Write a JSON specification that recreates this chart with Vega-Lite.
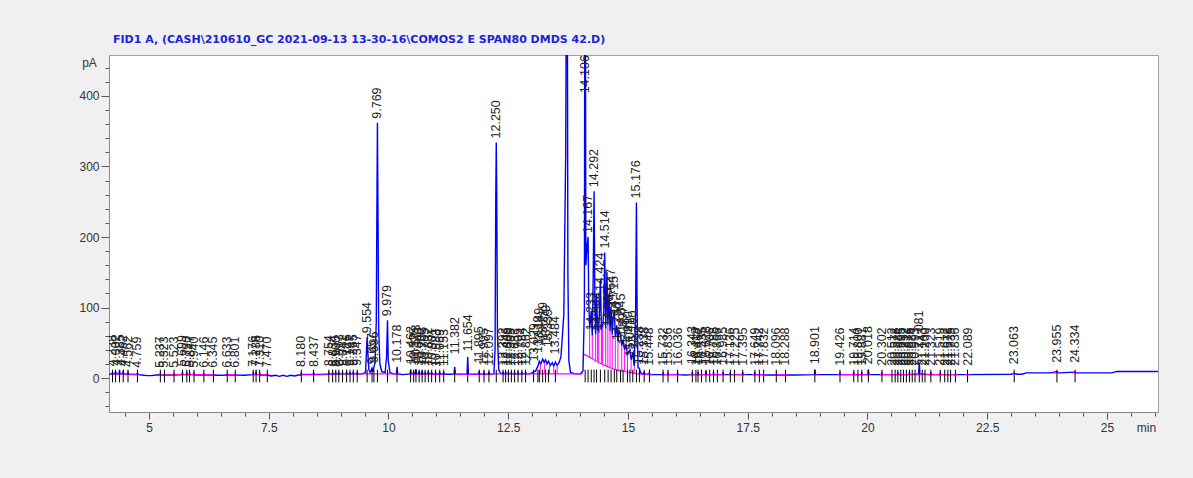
{
  "$schema": "https://vega.github.io/schema/vega-lite/v6.json",
  "autosize": {"type": "none"},
  "padding": {"left": 109, "top": 55, "right": 35, "bottom": 66},
  "width": 1049,
  "height": 357,
  "background": "#f0f0f0",
  "title": {
    "text": "FID1 A,  (CASH\\210610_GC 2021-09-13 13-30-16\\COMOS2 E SPAN80 DMDS 42.D)",
    "anchor": "start", "frame": "group", "dx": 4, "offset": 4, "baseline": "middle",
    "font": "DejaVu Sans", "fontSize": 11, "fontWeight": "bold", "color": "#2222dd"
  },
  "config": {
    "view": {"fill": "white", "stroke": "#a0a0a0", "strokeWidth": 1},
    "axis": {
      "grid": false, "domainColor": "#8a8a8a", "tickColor": "#555555",
      "labelFont": "Liberation Sans", "labelFontSize": 12, "labelColor": "#333333",
      "titleFont": "Liberation Sans", "titleFontSize": 12, "titleFontWeight": "normal", "titleColor": "#333333",
      "labelOverlap": false, "labelFlush": false
    }
  },
  "datasets": {
    "signal": [
      {"t":4.165,"v":6},{"t":4.2,"v":5.5},{"t":4.228,"v":6},{"t":4.238,"v":9},{"t":4.25,"v":6},{"t":4.29,"v":6},{"t":4.302,"v":10},{"t":4.315,"v":6.5},
      {"t":4.372,"v":6},{"t":4.385,"v":11},{"t":4.398,"v":6},{"t":4.45,"v":6},{"t":4.462,"v":9},{"t":4.475,"v":5.5},{"t":4.55,"v":5.5},{"t":4.562,"v":8},{"t":4.575,"v":5.5},
      {"t":4.745,"v":5},{"t":4.759,"v":7},{"t":4.775,"v":5},{"t":4.85,"v":4.5},{"t":4.95,"v":3.5},{"t":5.05,"v":3.5},{"t":5.15,"v":4.5},
      {"t":5.227,"v":4.5},{"t":5.237,"v":6.5},{"t":5.25,"v":4.5},{"t":5.312,"v":4.5},{"t":5.323,"v":6},{"t":5.335,"v":4.5},{"t":5.51,"v":4.5},{"t":5.523,"v":6},{"t":5.535,"v":4.5},
      {"t":5.688,"v":5},{"t":5.699,"v":8},{"t":5.71,"v":5},{"t":5.78,"v":5},{"t":5.79,"v":7},{"t":5.8,"v":5},{"t":5.837,"v":5},{"t":5.847,"v":7},{"t":5.858,"v":5},
      {"t":5.93,"v":5},{"t":5.94,"v":6.5},{"t":5.952,"v":4.5},{"t":6.135,"v":4.5},{"t":6.146,"v":6},{"t":6.158,"v":4.5},{"t":6.335,"v":4.5},{"t":6.345,"v":6},{"t":6.357,"v":4},
      {"t":6.5,"v":4},{"t":6.622,"v":4.5},{"t":6.633,"v":6},{"t":6.645,"v":4.5},{"t":6.79,"v":4.5},{"t":6.801,"v":6},{"t":6.813,"v":4.5},{"t":7.0,"v":4},
      {"t":7.165,"v":5},{"t":7.176,"v":7},{"t":7.188,"v":5},{"t":7.225,"v":5},{"t":7.236,"v":8},{"t":7.248,"v":5},{"t":7.3,"v":5},{"t":7.31,"v":7},{"t":7.322,"v":4.5},
      {"t":7.46,"v":4.5},{"t":7.47,"v":6},{"t":7.482,"v":4},{"t":7.56,"v":3},{"t":7.64,"v":4},{"t":7.72,"v":2.5},{"t":7.8,"v":4},{"t":7.88,"v":2.5},{"t":7.96,"v":4},{"t":8.04,"v":3},{"t":8.12,"v":4.5},
      {"t":8.17,"v":4.5},{"t":8.18,"v":7},{"t":8.192,"v":5},{"t":8.3,"v":5},{"t":8.425,"v":5},{"t":8.437,"v":7},{"t":8.449,"v":5},{"t":8.6,"v":5},
      {"t":8.745,"v":5.5},{"t":8.754,"v":8},{"t":8.763,"v":5.5},{"t":8.825,"v":5.5},{"t":8.834,"v":8},{"t":8.843,"v":5.5},{"t":8.891,"v":5.5},{"t":8.9,"v":7.5},{"t":8.909,"v":5.5},
      {"t":8.955,"v":6},{"t":8.963,"v":9},{"t":8.972,"v":6},{"t":9.032,"v":6},{"t":9.041,"v":8},{"t":9.05,"v":6},{"t":9.117,"v":6},{"t":9.126,"v":9},{"t":9.135,"v":6},
      {"t":9.189,"v":6},{"t":9.197,"v":8.5},{"t":9.205,"v":6},{"t":9.256,"v":6},{"t":9.265,"v":9},{"t":9.274,"v":6},{"t":9.339,"v":6},{"t":9.347,"v":9},{"t":9.355,"v":6},
      {"t":9.45,"v":6},{"t":9.52,"v":8},{"t":9.545,"v":45},{"t":9.554,"v":58},{"t":9.565,"v":40},{"t":9.59,"v":12},{"t":9.62,"v":8},{"t":9.657,"v":14},{"t":9.675,"v":9},{"t":9.696,"v":16},
      {"t":9.72,"v":22},{"t":9.745,"v":80},{"t":9.758,"v":240},{"t":9.769,"v":362},{"t":9.78,"v":240},{"t":9.795,"v":70},{"t":9.82,"v":20},{"t":9.86,"v":9},{"t":9.93,"v":8},
      {"t":9.96,"v":30},{"t":9.979,"v":82},{"t":9.995,"v":25},{"t":10.03,"v":8},{"t":10.1,"v":6},{"t":10.168,"v":6},{"t":10.178,"v":16},{"t":10.19,"v":6},{"t":10.3,"v":5},
      {"t":10.452,"v":6},{"t":10.462,"v":12},{"t":10.472,"v":6},{"t":10.515,"v":6},{"t":10.525,"v":10},{"t":10.535,"v":6},{"t":10.563,"v":6},{"t":10.573,"v":13},{"t":10.583,"v":6},
      {"t":10.63,"v":6},{"t":10.64,"v":10},{"t":10.65,"v":6},{"t":10.693,"v":6},{"t":10.703,"v":11},{"t":10.713,"v":6},{"t":10.755,"v":6},{"t":10.765,"v":9},{"t":10.775,"v":6},
      {"t":10.822,"v":6},{"t":10.832,"v":10},{"t":10.842,"v":6},{"t":10.891,"v":6},{"t":10.901,"v":9},{"t":10.911,"v":5.5},{"t":10.973,"v":5.5},{"t":10.983,"v":8},{"t":10.993,"v":5.5},
      {"t":11.059,"v":5.5},{"t":11.069,"v":9},{"t":11.079,"v":5.5},{"t":11.143,"v":5.5},{"t":11.153,"v":9},{"t":11.163,"v":5.5},{"t":11.3,"v":5.5},{"t":11.37,"v":6},{"t":11.382,"v":16},{"t":11.395,"v":6},
      {"t":11.46,"v":5.5},{"t":11.64,"v":6},{"t":11.654,"v":30},{"t":11.668,"v":6},{"t":11.8,"v":5.5},{"t":11.885,"v":5.5},{"t":11.895,"v":10},{"t":11.905,"v":5.5},
      {"t":11.985,"v":5.5},{"t":11.995,"v":8},{"t":12.005,"v":5.5},{"t":12.087,"v":5.5},{"t":12.097,"v":9},{"t":12.107,"v":5.5},
      {"t":12.2,"v":6},{"t":12.225,"v":40},{"t":12.24,"v":260},{"t":12.25,"v":334},{"t":12.26,"v":260},{"t":12.275,"v":60},{"t":12.3,"v":12},{"t":12.34,"v":7},
      {"t":12.382,"v":6},{"t":12.392,"v":9},{"t":12.402,"v":6},{"t":12.436,"v":6},{"t":12.446,"v":9},{"t":12.456,"v":6},{"t":12.493,"v":6},{"t":12.503,"v":9},{"t":12.513,"v":6},
      {"t":12.555,"v":6},{"t":12.565,"v":8},{"t":12.575,"v":6},{"t":12.623,"v":6},{"t":12.633,"v":8},{"t":12.643,"v":6},{"t":12.695,"v":6},{"t":12.705,"v":8},{"t":12.715,"v":6},
      {"t":12.774,"v":6},{"t":12.784,"v":9},{"t":12.794,"v":6},{"t":12.852,"v":6},{"t":12.862,"v":9},{"t":12.872,"v":6},{"t":12.95,"v":6},
      {"t":13.029,"v":9},{"t":13.07,"v":10},{"t":13.119,"v":17},{"t":13.149,"v":24},{"t":13.18,"v":20},{"t":13.219,"v":27},{"t":13.25,"v":22},{"t":13.279,"v":26},{"t":13.31,"v":20},
      {"t":13.339,"v":24},{"t":13.38,"v":18},{"t":13.42,"v":22},{"t":13.45,"v":17},{"t":13.484,"v":23},{"t":13.52,"v":18},{"t":13.56,"v":22},{"t":13.6,"v":30},{"t":13.66,"v":90},
      {"t":13.7,"v":320},{"t":13.72,"v":700},{"t":13.73,"v":700},{"t":13.745,"v":150},{"t":13.765,"v":25},{"t":13.8,"v":8},{"t":13.9,"v":6},{"t":14.0,"v":6},
      {"t":14.06,"v":10},{"t":14.09,"v":100},{"t":14.1,"v":700},{"t":14.108,"v":700},{"t":14.12,"v":160},{"t":14.15,"v":190},{"t":14.167,"v":200},{"t":14.18,"v":110},{"t":14.2,"v":70},
      {"t":14.233,"v":95},{"t":14.255,"v":60},{"t":14.275,"v":150},{"t":14.292,"v":265},{"t":14.31,"v":100},{"t":14.325,"v":62},{"t":14.344,"v":120},{"t":14.365,"v":68},{"t":14.39,"v":66},
      {"t":14.424,"v":140},{"t":14.445,"v":70},{"t":14.47,"v":72},{"t":14.495,"v":95},{"t":14.514,"v":178},{"t":14.535,"v":70},{"t":14.56,"v":150},{"t":14.58,"v":75},{"t":14.606,"v":120},
      {"t":14.625,"v":66},{"t":14.647,"v":100},{"t":14.67,"v":62},{"t":14.69,"v":85},{"t":14.715,"v":97},{"t":14.735,"v":58},{"t":14.766,"v":75},{"t":14.79,"v":52},{"t":14.815,"v":68},
      {"t":14.845,"v":62},{"t":14.87,"v":46},{"t":14.897,"v":55},{"t":14.93,"v":40},{"t":14.96,"v":48},{"t":14.99,"v":33},{"t":15.02,"v":38},{"t":15.041,"v":40},{"t":15.065,"v":26},
      {"t":15.1,"v":36},{"t":15.13,"v":17},{"t":15.16,"v":100},{"t":15.176,"v":249},{"t":15.19,"v":100},{"t":15.21,"v":15},{"t":15.238,"v":14},{"t":15.26,"v":8},{"t":15.3,"v":6},
      {"t":15.328,"v":5.5},{"t":15.338,"v":9},{"t":15.348,"v":5.5},{"t":15.438,"v":5.5},{"t":15.448,"v":8},{"t":15.458,"v":5},{"t":15.6,"v":5},{"t":15.722,"v":5},{"t":15.732,"v":7},{"t":15.742,"v":5},
      {"t":15.826,"v":5},{"t":15.836,"v":7},{"t":15.846,"v":5},{"t":16.026,"v":5},{"t":16.036,"v":7},{"t":16.046,"v":5},{"t":16.2,"v":4.5},{"t":16.333,"v":5},{"t":16.343,"v":8},{"t":16.353,"v":5},
      {"t":16.452,"v":5},{"t":16.462,"v":8},{"t":16.472,"v":5},{"t":16.618,"v":5},{"t":16.628,"v":10},{"t":16.638,"v":5},{"t":16.776,"v":5},{"t":16.786,"v":8},{"t":16.796,"v":5},
      {"t":16.975,"v":5},{"t":16.985,"v":8},{"t":16.995,"v":5},{"t":17.126,"v":5},{"t":17.136,"v":7},{"t":17.146,"v":5},{"t":17.385,"v":5},{"t":17.395,"v":8},{"t":17.405,"v":5},
      {"t":17.639,"v":5},{"t":17.649,"v":7},{"t":17.659,"v":5},{"t":17.9,"v":4.5},{"t":18.086,"v":4.5},{"t":18.096,"v":6},{"t":18.106,"v":4.5},{"t":18.5,"v":4.5},
      {"t":18.89,"v":5},{"t":18.901,"v":12},{"t":18.912,"v":5},{"t":19.2,"v":5},{"t":19.416,"v":5},{"t":19.426,"v":7},{"t":19.436,"v":5},{"t":19.704,"v":5},{"t":19.714,"v":8},{"t":19.724,"v":5},
      {"t":19.871,"v":5},{"t":19.881,"v":8},{"t":19.891,"v":5},{"t":20.006,"v":5},{"t":20.018,"v":12},{"t":20.03,"v":5},{"t":20.292,"v":5},{"t":20.302,"v":7},{"t":20.312,"v":5},
      {"t":20.624,"v":5},{"t":20.634,"v":8},{"t":20.644,"v":5},{"t":20.866,"v":5},{"t":20.876,"v":8},{"t":20.886,"v":5},{"t":21.068,"v":6},{"t":21.081,"v":22},{"t":21.094,"v":6},
      {"t":21.313,"v":5},{"t":21.323,"v":8},{"t":21.333,"v":5},{"t":21.509,"v":5},{"t":21.519,"v":7},{"t":21.529,"v":5},{"t":22.079,"v":5},{"t":22.089,"v":6},{"t":22.099,"v":5},
      {"t":23.0,"v":5.5},{"t":23.063,"v":7},{"t":23.12,"v":5.5},{"t":23.22,"v":5.5},{"t":23.32,"v":7.5},{"t":23.8,"v":7.5},{"t":23.955,"v":9},{"t":24.0,"v":7.5},{"t":24.334,"v":8.5},{"t":24.4,"v":7.5},
      {"t":25.1,"v":7.5},{"t":25.2,"v":9.5},{"t":26.065,"v":9.5}
    ],
    "base": [
      {"seg":"A","t":4.2,"v":5.8},{"seg":"A","t":4.8,"v":5.5},
      {"seg":"B","t":5.2,"v":5},{"seg":"B","t":6.4,"v":5},
      {"seg":"C","t":6.58,"v":5},{"seg":"C","t":6.85,"v":5},
      {"seg":"D","t":7.15,"v":5.2},{"seg":"D","t":7.5,"v":5},
      {"seg":"E","t":8.15,"v":5.5},{"seg":"E","t":9.5,"v":6},
      {"seg":"F","t":9.5,"v":6},{"seg":"F","t":10.25,"v":6},
      {"seg":"G","t":10.42,"v":5.5},{"seg":"G","t":11.2,"v":5.5},
      {"seg":"H","t":11.35,"v":5.5},{"seg":"H","t":12.15,"v":5.5},
      {"seg":"I","t":12.2,"v":6},{"seg":"I","t":13.65,"v":6},
      {"seg":"J","t":13.65,"v":6},{"seg":"J","t":14.06,"v":6},
      {"seg":"K","t":14.08,"v":34},{"seg":"K","t":14.2,"v":29.5},{"seg":"K","t":14.35,"v":23.5},{"seg":"K","t":14.5,"v":18.5},{"seg":"K","t":14.65,"v":14},{"seg":"K","t":14.8,"v":11},{"seg":"K","t":14.95,"v":9},{"seg":"K","t":15.1,"v":7},{"seg":"K","t":15.25,"v":5.5},
      {"seg":"L","t":15.25,"v":5.5},{"seg":"L","t":15.5,"v":5},
      {"seg":"M","t":15.7,"v":5},{"seg":"M","t":16.06,"v":5},
      {"seg":"N","t":16.3,"v":5},{"seg":"N","t":17.02,"v":5},
      {"seg":"O","t":17.1,"v":5},{"seg":"O","t":17.45,"v":5},
      {"seg":"P","t":17.6,"v":5},{"seg":"P","t":17.88,"v":5},
      {"seg":"Q","t":18.06,"v":5},{"seg":"Q","t":18.32,"v":5},
      {"seg":"R","t":18.86,"v":5},{"seg":"R","t":18.95,"v":5},
      {"seg":"S","t":19.38,"v":5},{"seg":"S","t":20.06,"v":5},
      {"seg":"T","t":20.26,"v":5},{"seg":"T","t":21.88,"v":5},
      {"seg":"U","t":22.04,"v":5},{"seg":"U","t":22.12,"v":5},
      {"seg":"V","t":23.02,"v":6},{"seg":"V","t":23.1,"v":6},
      {"seg":"W","t":23.85,"v":7.5},{"seg":"W","t":24.02,"v":7.5},
      {"seg":"X","t":24.28,"v":7.5},{"seg":"X","t":24.4,"v":7.5}
    ],
    "drops": [
      {"t":13.17,"v":6,"v2":20},{"t":13.26,"v":6,"v2":22},{"t":13.36,"v":6,"v2":18},{"t":13.45,"v":6,"v2":17},{"t":13.52,"v":6,"v2":18},
      {"t":14.2,"v":29.5,"v2":70},{"t":14.255,"v":27.5,"v2":60},{"t":14.325,"v":25,"v2":62},{"t":14.365,"v":24,"v2":68},{"t":14.39,"v":23,"v2":66},
      {"t":14.445,"v":21,"v2":70},{"t":14.47,"v":20.5,"v2":72},{"t":14.535,"v":17,"v2":70},{"t":14.58,"v":16,"v2":75},{"t":14.625,"v":15,"v2":66},
      {"t":14.67,"v":13.5,"v2":62},{"t":14.735,"v":12,"v2":58},{"t":14.79,"v":11,"v2":52},{"t":14.87,"v":10,"v2":46},{"t":14.93,"v":9,"v2":40},
      {"t":14.99,"v":8.5,"v2":33},{"t":15.065,"v":7.5,"v2":26},{"t":15.13,"v":6.5,"v2":17}
    ],
    "peaks": [
      {"t":4.238,"v":11},{"t":4.302,"v":12},{"t":4.385,"v":12},{"t":4.462,"v":11},{"t":4.562,"v":10},{"t":4.759,"v":9},
      {"t":5.237,"v":9},{"t":5.323,"v":9},{"t":5.523,"v":9},{"t":5.699,"v":11},{"t":5.79,"v":10},{"t":5.847,"v":10},{"t":5.94,"v":9},{"t":6.146,"v":9},{"t":6.345,"v":9},
      {"t":6.633,"v":9},{"t":6.801,"v":9},{"t":7.176,"v":10},{"t":7.236,"v":11},{"t":7.31,"v":10},{"t":7.47,"v":9},
      {"t":8.18,"v":10},{"t":8.437,"v":10},{"t":8.754,"v":11},{"t":8.834,"v":11},{"t":8.9,"v":10},{"t":8.963,"v":12},{"t":9.041,"v":11},{"t":9.126,"v":12},{"t":9.197,"v":11},{"t":9.265,"v":12},{"t":9.347,"v":12},
      {"t":9.554,"v":58},{"t":9.657,"v":14},{"t":9.696,"v":16},{"t":9.769,"v":362},{"t":9.979,"v":82},{"t":10.178,"v":16},
      {"t":10.462,"v":14},{"t":10.525,"v":12},{"t":10.573,"v":16},{"t":10.64,"v":12},{"t":10.703,"v":13},{"t":10.765,"v":11},{"t":10.832,"v":12},{"t":10.901,"v":11},{"t":10.983,"v":10},{"t":11.069,"v":11},{"t":11.153,"v":11},
      {"t":11.382,"v":28},{"t":11.654,"v":32},{"t":11.895,"v":15},{"t":11.995,"v":12},{"t":12.097,"v":12},{"t":12.25,"v":334},
      {"t":12.392,"v":12},{"t":12.446,"v":12},{"t":12.503,"v":12},{"t":12.565,"v":11},{"t":12.633,"v":11},{"t":12.705,"v":11},{"t":12.784,"v":12},{"t":12.862,"v":12},
      {"t":13.029,"v":18},{"t":13.119,"v":30},{"t":13.149,"v":40},{"t":13.219,"v":48},{"t":13.279,"v":44},{"t":13.339,"v":38},{"t":13.484,"v":28},
      {"t":14.106,"v":398},{"t":14.167,"v":200},{"t":14.233,"v":62},{"t":14.292,"v":265},{"t":14.344,"v":62},{"t":14.424,"v":118},{"t":14.514,"v":178},{"t":14.585,"v":68},
      {"t":14.647,"v":95},{"t":14.715,"v":85},{"t":14.766,"v":48},{"t":14.845,"v":60},{"t":14.897,"v":42},{"t":14.99,"v":35},{"t":15.041,"v":25},{"t":15.1,"v":36},{"t":15.176,"v":249},{"t":15.238,"v":14},
      {"t":15.338,"v":13},{"t":15.448,"v":12},{"t":15.732,"v":12},{"t":15.836,"v":12},{"t":16.036,"v":12},{"t":16.343,"v":14},{"t":16.418,"v":12},{"t":16.462,"v":13},{"t":16.535,"v":12},
      {"t":16.628,"v":14},{"t":16.706,"v":12},{"t":16.786,"v":13},{"t":16.866,"v":12},{"t":16.985,"v":13},{"t":17.136,"v":12},{"t":17.225,"v":12},{"t":17.395,"v":12},{"t":17.649,"v":12},
      {"t":17.742,"v":12},{"t":17.832,"v":12},{"t":18.096,"v":12},{"t":18.288,"v":12},{"t":18.901,"v":14},{"t":19.426,"v":12},{"t":19.714,"v":12},{"t":19.8,"v":12},{"t":19.881,"v":12},
      {"t":20.018,"v":14},{"t":20.302,"v":12},{"t":20.512,"v":12},{"t":20.578,"v":12},{"t":20.634,"v":12},{"t":20.695,"v":12},{"t":20.752,"v":12},{"t":20.812,"v":12},{"t":20.876,"v":12},
      {"t":20.934,"v":12},{"t":20.993,"v":12},{"t":21.081,"v":36},{"t":21.143,"v":12},{"t":21.2,"v":12},{"t":21.323,"v":12},{"t":21.519,"v":12},{"t":21.612,"v":12},{"t":21.678,"v":12},
      {"t":21.735,"v":12},{"t":21.836,"v":12},{"t":22.089,"v":12},{"t":23.063,"v":14},{"t":23.955,"v":16},{"t":24.334,"v":16}
    ]
  },
  "encoding": {
    "x": {
      "field": "t", "type": "quantitative",
      "scale": {"domain": [4.165, 26.065], "nice": false, "zero": false},
      "axis": {
        "title": "min", "titleX": 1037, "titleY": 15, "titleAlign": "center", "titleBaseline": "middle",
        "values": [4.5,5,5.5,6,6.5,7,7.5,8,8.5,9,9.5,10,10.5,11,11.5,12,12.5,13,13.5,14,14.5,15,15.5,16,16.5,17,17.5,18,18.5,19,19.5,20,20.5,21,21.5,22,22.5,23,23.5,24,24.5,25,25.5,26],
        "tickSize": {"condition": {"test": "datum.value % 2.5 === 0", "value": 7}, "value": 4},
        "labelExpr": "datum.value % 2.5 === 0 ? format(datum.value, '~g') : ''",
        "labelPadding": 3
      }
    },
    "y": {
      "field": "v", "type": "quantitative",
      "scale": {"domain": [-48, 458], "nice": false, "zero": false},
      "axis": {
        "title": "pA", "titleAngle": 0, "titleX": -20, "titleY": 7, "titleAlign": "center", "titleBaseline": "middle",
        "values": [-40,-20,0,20,40,60,80,100,120,140,160,180,200,220,240,260,280,300,320,340,360,380,400,420,440],
        "tickSize": {"condition": {"test": "datum.value % 100 === 0", "value": 8}, "value": 4},
        "labelExpr": "datum.value % 100 === 0 ? datum.label : ''",
        "labelPadding": 2
      }
    }
  },
  "layer": [
    {
      "data": {"name": "signal"},
      "mark": {"type": "line", "color": "#0000ff", "strokeWidth": 1.4, "clip": true}
    },
    {
      "data": {"name": "base"},
      "mark": {"type": "line", "color": "#ff00ff", "strokeWidth": 1.2, "clip": true},
      "encoding": {"detail": {"field": "seg"}}
    },
    {
      "data": {"name": "drops"},
      "mark": {"type": "rule", "color": "#ff00ff", "strokeWidth": 1, "clip": true},
      "encoding": {"y2": {"field": "v2"}}
    },
    {
      "data": {"name": "peaks"},
      "mark": {"type": "rule", "color": "#000000", "strokeWidth": 1, "clip": true},
      "encoding": {"y": {"datum": -6}, "y2": {"datum": 12}}
    },
    {
      "data": {"name": "peaks"},
      "mark": {"type": "text", "angle": 270, "align": "left", "baseline": "middle", "dx": 4, "font": "Liberation Sans", "fontSize": 12.5, "color": "#222222", "clip": true},
      "encoding": {"text": {"field": "t", "type": "quantitative", "format": ".3f"}}
    }
  ]
}
